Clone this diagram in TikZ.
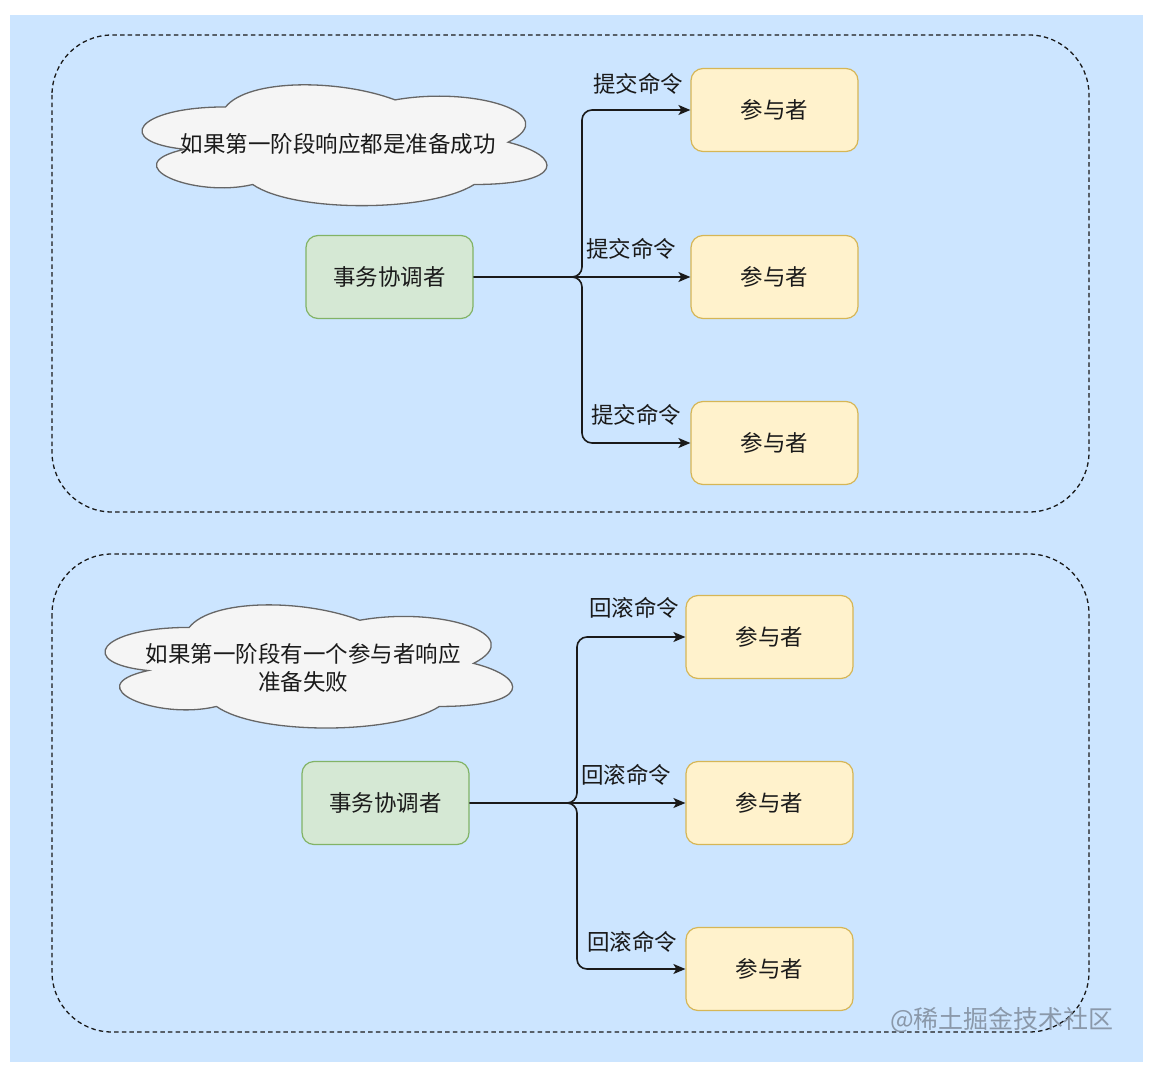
\documentclass[tikz,border=0pt]{standalone}
\usepackage{fontspec}
\newfontfamily\cjk{Noto Sans CJK SC}
\usetikzlibrary{arrows.meta}
\definecolor{bgblue}{HTML}{CCE5FF}
\definecolor{greenfill}{HTML}{D5E8D4}
\definecolor{greenline}{HTML}{82B366}
\definecolor{yellowfill}{HTML}{FFF2CC}
\definecolor{yellowline}{HTML}{D6B656}
\definecolor{cloudfill}{HTML}{F5F5F5}
\definecolor{cloudline}{HTML}{666666}
\definecolor{inkc}{HTML}{1A1A1A}
\definecolor{wmark}{HTML}{7F8B9B}
\begin{document}
\begin{tikzpicture}[x=1pt,y=-1pt,
  txt/.style={font=\cjk\fontsize{22.5}{28}\selectfont, text=inkc},
  coordbox/.style={txt, draw=greenline, fill=greenfill, line width=1.2pt, rounded corners=12pt, minimum width=167pt, minimum height=83pt, inner sep=0pt},
  partbox/.style={txt, draw=yellowline, fill=yellowfill, line width=1.2pt, rounded corners=12pt, minimum width=167pt, minimum height=83pt, inner sep=0pt},
  grp/.style={draw=inkc, line width=1.3pt, dash pattern=on 4.5pt off 3.2pt, rounded corners=60pt},
  cloudstyle/.style={draw=cloudline, fill=cloudfill, line width=1.3pt},
  edge/.style={draw=inkc, line width=1.6pt, rounded corners=10pt, -{Stealth[length=12pt,width=10pt,inset=3pt]}},
  lbl/.style={txt, inner sep=0pt},
]
\useasboundingbox (0,0) rectangle (1162,1086);
\fill[bgblue] (10,15) rectangle (1143,1062);

% groups
\draw[grp] (52,35) rectangle (1089,512);
\draw[grp] (52,554) rectangle (1089,1032);

% top cloud
\begin{scope}[shift={(112.6,71.7)},xscale=452,yscale=141]
\draw[cloudstyle] (0.25,0.25) .. controls (0.05,0.25) and (0,0.5) .. (0.16,0.55)
  .. controls (0,0.66) and (0.18,0.9) .. (0.31,0.8)
  .. controls (0.4,1) and (0.7,1) .. (0.8,0.8)
  .. controls (1,0.8) and (1,0.6) .. (0.875,0.5)
  .. controls (1,0.3) and (0.8,0.1) .. (0.625,0.2)
  .. controls (0.5,0.05) and (0.3,0.05) .. (0.25,0.25) -- cycle;
\end{scope}
\node[txt] (cloud1) at (338,144) {如果第一阶段响应都是准备成功};

% bottom cloud
\begin{scope}[shift={(75.4,591.5)},xscale=455,yscale=143.7]
\draw[cloudstyle] (0.25,0.25) .. controls (0.05,0.25) and (0,0.5) .. (0.16,0.55)
  .. controls (0,0.66) and (0.18,0.9) .. (0.31,0.8)
  .. controls (0.4,1) and (0.7,1) .. (0.8,0.8)
  .. controls (1,0.8) and (1,0.6) .. (0.875,0.5)
  .. controls (1,0.3) and (0.8,0.1) .. (0.625,0.2)
  .. controls (0.5,0.05) and (0.3,0.05) .. (0.25,0.25) -- cycle;
\end{scope}
\node[txt, align=center] (cloud2) at (303,668) {如果第一阶段有一个参与者响应\\准备失败};

% top group
\node[coordbox] (c1) at (389.5,277) {事务协调者};
\node[partbox] (p11) at (774.5,110) {参与者};
\node[partbox] (p12) at (774.5,277) {参与者};
\node[partbox] (p13) at (774.5,443) {参与者};
\coordinate (j1) at (582,277);
\draw[edge] (c1.east) -- (j1) |- (p11.west);
\draw[edge] (c1.east) -- (p12.west);
\draw[edge] (c1.east) -- (j1) |- (p13.west);
\node[lbl] (l11) at (638,84) {提交命令};
\node[lbl] (l12) at (631,249) {提交命令};
\node[lbl] (l13) at (636,415) {提交命令};

% bottom group
\node[coordbox] (c2) at (385.5,803) {事务协调者};
\node[partbox] (p21) at (769.5,637) {参与者};
\node[partbox] (p22) at (769.5,803) {参与者};
\node[partbox] (p23) at (769.5,969) {参与者};
\coordinate (j2) at (577,803);
\draw[edge] (c2.east) -- (j2) |- (p21.west);
\draw[edge] (c2.east) -- (p22.west);
\draw[edge] (c2.east) -- (j2) |- (p23.west);
\node[lbl] (l21) at (634,608) {回滚命令};
\node[lbl] (l22) at (626,775) {回滚命令};
\node[lbl] (l23) at (632,942) {回滚命令};

% watermark
\node[font=\cjk\fontsize{25}{30}\selectfont, text=wmark, opacity=0.85, inner sep=0pt] (wm) at (1002,1020) {@稀土掘金技术社区};
\end{tikzpicture}
\end{document}
